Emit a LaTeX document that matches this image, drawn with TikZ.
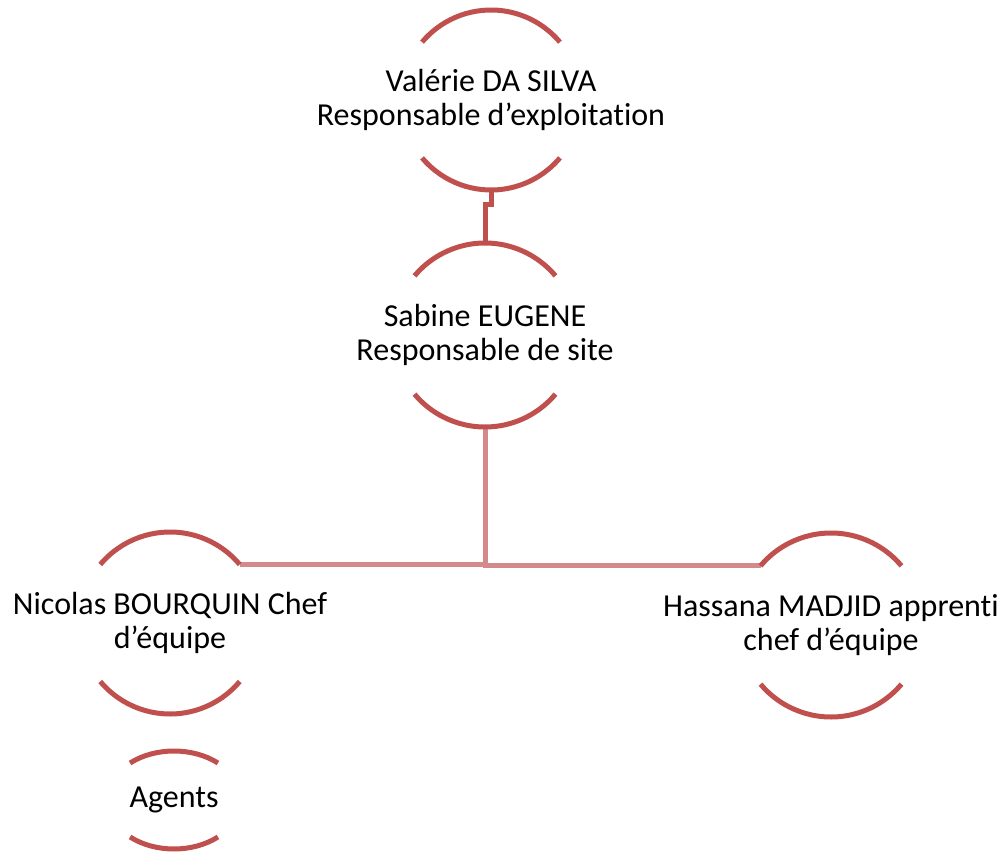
\documentclass[tikz,border=0pt]{standalone}
\usepackage{fontspec}
\setmainfont{Carlito}[Ligatures=CommonOff]
\usetikzlibrary{calc}
\definecolor{arcred}{HTML}{C0504D}
\definecolor{linkred}{HTML}{D48A8A}
\newcommand\ringarcs[2]{%
  \draw[arcst] ([shift={(140:#2)}]#1.center) arc[start angle=140,end angle=40,radius=#2];
  \draw[arcst] ([shift={(220:#2)}]#1.center) arc[start angle=220,end angle=320,radius=#2];}
\begin{document}
\begin{tikzpicture}[x=0.75pt,y=0.75pt,
  arcst/.style={draw=arcred,line width=3.75pt},
  topconn/.style={draw=arcred,line width=3.75pt},
  lowconn/.style={draw=linkred,line width=3.75pt},
  lbl/.style={align=center,inner sep=0pt,font=\fontsize{24}{26}\selectfont}]
\useasboundingbox (0,0) rectangle (1003,-852);
\node[lbl] (V) at (491,-100) {Valérie DA SILVA\\Responsable d’exploitation};
\node[lbl] (S) at (485,-335) {Sabine EUGENE\\Responsable de site};
\node[lbl] (N) at (170,-623) {Nicolas BOURQUIN Chef\\d’équipe};
\node[lbl] (H) at (831,-625) {Hassana MADJID apprenti\\chef d’équipe};
\node[lbl] (A) at (174,-800) {Agents};
\coordinate (Vb) at ($(V.center)+(0,-90)$);
\coordinate (St) at ($(S.center)+(0,92)$);
\coordinate (Sb) at ($(S.center)+(0,-92)$);
\coordinate (Nr) at ([shift={(40:91)}]N.center);
\coordinate (Hl) at ([shift={(140:92)}]H.center);
\draw[topconn] (Vb) -- ++(0,-15) -| (St);
\draw[lowconn] (Sb) |- (Nr);
\draw[lowconn] (Sb) |- (Hl);
\ringarcs{V}{90}
\ringarcs{S}{92}
\ringarcs{N}{91}
\ringarcs{H}{92}
\draw[arcst] ([shift={(131:67 and 49)}]A.center) arc[start angle=131,end angle=49,x radius=67,y radius=49];
\draw[arcst] ([shift={(229:67 and 49)}]A.center) arc[start angle=229,end angle=311,x radius=67,y radius=49];
\end{tikzpicture}
\end{document}
